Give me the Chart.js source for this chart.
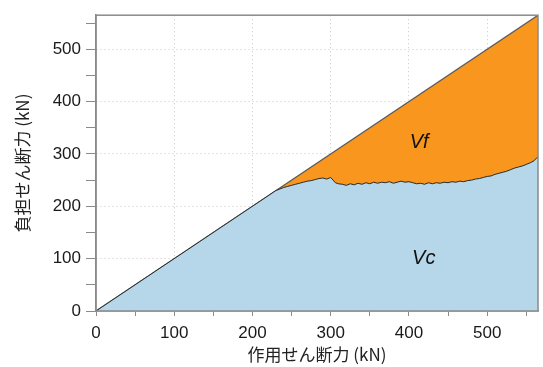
<!DOCTYPE html>
<html>
<head>
<meta charset="utf-8">
<script src="https://cdn.jsdelivr.net/npm/chart.js@4/dist/chart.umd.min.js"></script>
<style>
  html, body { margin: 0; padding: 0; background: #fff; }
  #wrap { width: 543px; height: 367px; }
</style>
</head>
<body>
<div id="wrap"><canvas id="shearChart"></canvas></div>
<script>
// 作用せん断力 (kN)
const actingShear = [0, 230, 235, 240, 245, 250, 255, 260, 265, 270, 275, 280, 285, 290, 295, 300, 303, 306, 310, 315, 320, 325, 330, 335, 340, 345, 350, 355, 360, 365, 370, 375, 380, 385, 390, 395, 400, 405, 410, 415, 420, 425, 430, 435, 440, 445, 450, 455, 460, 465, 470, 475, 480, 485, 490, 495, 500, 505, 510, 515, 520, 525, 530, 535, 540, 545, 550, 555, 560, 563, 565];
// Vc 負担せん断力 (kN)
const vcShear = [0, 230, 233, 236, 238, 240, 242, 244, 246, 248, 249, 251, 253, 254, 252, 255, 250, 245, 243, 242, 240, 243, 241, 244, 242, 245, 243, 246, 244, 246, 245, 247, 244, 246, 248, 246, 247, 245, 243, 244, 242, 245, 243, 245, 244, 246, 245, 247, 246, 248, 247, 249, 250, 252, 253, 255, 257, 258, 261, 263, 265, 267, 270, 273, 275, 277, 280, 283, 287, 292, 294];
// 作用 = 負担 の対角線
const diagX = [0, 565];
const diagY = [0, 565];

const xTicks = [0, 100, 200, 300, 400, 500];
const yTicks = [0, 100, 200, 300, 400, 500];

const toPoints = (xs, ys) => xs.map((x, i) => ({ x: x, y: ys[i] }));

const isMajor = (v) => v % 100 === 0;

// ラベル Vf / Vc と枠線
const overlayPlugin = {
  id: 'overlay',
  afterDatasetsDraw(chart) {
    const { ctx, chartArea, scales } = chart;
    ctx.save();
    ctx.fillStyle = '#111';
    ctx.font = 'italic 20px "Liberation Sans", Arial, sans-serif';
    ctx.textAlign = 'center';
    ctx.textBaseline = 'middle';
    ctx.fillText('Vf', scales.x.getPixelForValue(413), scales.y.getPixelForValue(322));
    ctx.fillText('Vc', scales.x.getPixelForValue(419), scales.y.getPixelForValue(100));
    ctx.strokeStyle = '#8a8a8a';
    ctx.lineWidth = 1.5;
    ctx.strokeRect(chartArea.left, chartArea.top, chartArea.right - chartArea.left, chartArea.bottom - chartArea.top);
    ctx.restore();
  }
};

const tickFont = { family: '"Liberation Sans", Arial, sans-serif', size: 17 };
const titleFont = { family: '"Noto Sans CJK JP", "Liberation Sans", sans-serif', size: 17 };

const buildTicks = (s) => {
  s.ticks = [];
  for (let v = 0; v <= 550; v += 50) s.ticks.push({ value: v });
};

const gridColor = (c) => (c.tick && isMajor(c.tick.value) && c.tick.value > 0 ? '#c8c8c8' : 'rgba(0,0,0,0)');

new Chart(document.getElementById('shearChart').getContext('2d'), {
  type: 'line',
  data: {
    datasets: [
      {
        label: 'Vc',
        data: toPoints(actingShear, vcShear),
        borderColor: '#2b2b2b',
        borderWidth: 1,
        backgroundColor: '#b6d7e9',
        fill: 'origin',
        pointRadius: 0,
        tension: 0,
        order: 1
      },
      {
        label: '作用',
        data: toPoints(diagX, diagY),
        borderColor: '#5a5a5a',
        borderWidth: 1.2,
        backgroundColor: '#f8961d',
        fill: 'origin',
        pointRadius: 0,
        tension: 0,
        order: 2
      }
    ]
  },
  options: {
    responsive: true,
    maintainAspectRatio: false,
    animation: false,
    layout: { padding: { left: 0, right: 5, top: 13, bottom: 0 } },
    plugins: {
      legend: { display: false },
      tooltip: { enabled: false }
    },
    scales: {
      x: {
        type: 'linear',
        min: 0,
        max: 565,
        afterFit: (s) => { s.height = 56; },
        afterBuildTicks: buildTicks,
        ticks: {
          autoSkip: false,
          maxRotation: 0,
          color: '#1a1a1a',
          font: tickFont,
          padding: 7,
          callback: (v) => (xTicks.includes(v) ? String(v) : '')
        },
        grid: {
          color: gridColor,
          tickColor: '#8a8a8a',
          tickLength: 5
        },
        border: { color: '#8a8a8a', width: 1.5, dash: [1, 3] },
        title: {
          display: true,
          text: '作用せん断力 (kN)',
          color: '#222',
          font: titleFont,
          padding: { top: 0, bottom: 2 }
        }
      },
      y: {
        type: 'linear',
        min: 0,
        max: 565,
        afterFit: (s) => { s.width = 96; },
        afterBuildTicks: buildTicks,
        ticks: {
          autoSkip: false,
          color: '#1a1a1a',
          font: tickFont,
          padding: 5,
          callback: (v) => (yTicks.includes(v) ? String(v) : '')
        },
        grid: {
          color: gridColor,
          tickColor: '#8a8a8a',
          tickLength: 10
        },
        border: { color: '#8a8a8a', width: 1.5, dash: [1, 3] },
        title: {
          display: true,
          text: '負担せん断力 (kN)',
          color: '#222',
          font: titleFont,
          padding: { top: 12, bottom: 0 }
        }
      }
    }
  },
  plugins: [overlayPlugin]
});
</script>
</body>
</html>
